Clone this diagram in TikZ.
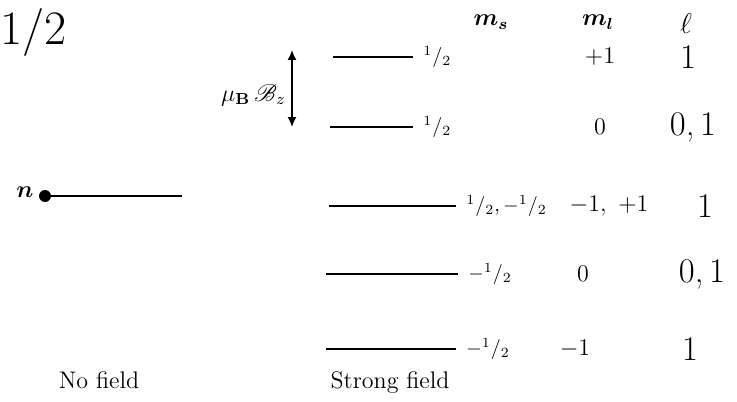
\documentclass[tikz,border=0pt]{standalone}
\usepackage{amsmath,amssymb,mathrsfs}
\usetikzlibrary{arrows.meta, positioning}
\newcommand{\halfval}{\textsuperscript{1}/\textsubscript{2}}
\begin{document}
\begin{tikzpicture}[x=0.5pt,y=-0.5pt,
    level/.style={line width=1.1pt},
    mslabel/.style={anchor=west,font=\normalsize,inner sep=1pt},
    mllabel/.style={font=\large,inner sep=1pt},
    ellabel/.style={font=\LARGE,inner sep=0pt},
    headlabel/.style={font=\large,inner sep=1pt},
    caption/.style={font=\large,inner sep=1pt},
    arrow/.style={<->,>={Latex[length=5pt,width=4.5pt]},line width=0.8pt}
]
\useasboundingbox (0,0) rectangle (737,401);
\node[anchor=west,font=\fontsize{24}{26}\selectfont,inner sep=0pt] (spin) at (0,33) {1/2};
% column headings
\node[headlabel] (hms) at (491,22) {$\boldsymbol{m_s}$};
\node[headlabel] (hml) at (598,22) {$\boldsymbol{m_l}$};
\node[font=\Large,inner sep=0pt] (hel) at (686,24) {$\ell$};
% no field level
\draw[level] (45,196) coordinate (nfA) -- (182,196) coordinate (nfB);
\fill (nfA) circle (6);
\node[anchor=east,font=\large,inner sep=1pt] (nlab) at (36,192) {$\boldsymbol{n}$};
\node[caption] (nofield) at (99,380) {No field};
% strong field levels
\foreach \y/\xa/\xb/\ms/\xl/\ml/\xe/\el [count=\i] in {
    57/333/413/{\halfval}/600/{$+1$}/688/{1},
    127/330/413/{\halfval}/600/{$0$}/693/{0,\,1},
    206/329/456/{\halfval,\,$-$\halfval}/609/{$-1,\ +1$}/705/{1},
    274/326/458/{$-$\halfval}/583/{$0$}/702/{0,\,1},
    349/326/456/{$-$\halfval}/575/{$-1$}/690/{1}} {
  \draw[level] (\xa,\y) coordinate (lvA\i) -- (\xb,\y) coordinate (lvB\i);
  \node[mslabel, right=4pt of lvB\i] (ms\i) {\ms};
  \node[mllabel] (ml\i) at (\xl,\y) {\ml};
  \node[ellabel] (el\i) at (\xe,\y) {\el};
}
\node[caption] (strong) at (390,383) {Strong field};
% splitting arrow
\coordinate (arT) at (292,50);
\coordinate (arB) at (292,127);
\draw[arrow] (arT) -- (arB);
\node[anchor=east,font=\large,inner sep=2pt] (split) at (290,95) {$\mu_{\mathbf{B}}\,\mathscr{B}_z$};
\end{tikzpicture}
\end{document}
